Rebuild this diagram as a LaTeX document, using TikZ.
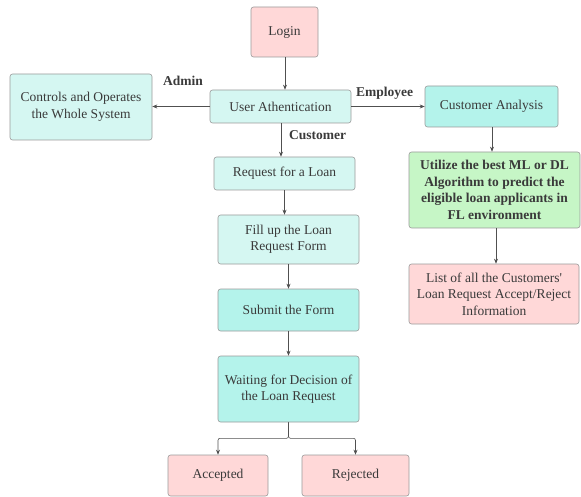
\documentclass[tikz,border=0pt]{standalone}
\usepackage{fontspec}
\setmainfont{Liberation Serif}
\usetikzlibrary{arrows.meta,calc}
\definecolor{pinkf}{HTML}{FFD8D8}
\definecolor{lcyan}{HTML}{D5F7F2}
\definecolor{dcyan}{HTML}{B4F3EB}
\definecolor{greenf}{HTML}{C6F6C6}
\definecolor{bordc}{HTML}{9A9A9A}
\definecolor{txtc}{HTML}{3A3A3A}
\definecolor{linec}{HTML}{505050}
\tikzset{
  box/.style={draw=bordc, line width=0.6pt, rounded corners=2.5pt, align=center, text=txtc,
    font=\fontsize{13.5}{16.5}\selectfont, inner sep=1pt},
  conn/.style={draw=linec, line width=0.6pt, -{Stealth[length=5pt,width=4pt]}},
  lbl/.style={text=txtc, font=\fontsize{13.5}{16.5}\selectfont\bfseries}
}
\newcommand{\bx}[7]{\node[box, fill=#2, minimum width=#5pt, minimum height=#6pt] (#1) at (#3pt,-#4pt) {#7};}
\begin{document}
\begin{tikzpicture}[x=1pt,y=1pt]
\useasboundingbox (0,0) rectangle (581,-497);
\bx{login}{pinkf}{284.5}{32}{67}{50}{Login}
\bx{ua}{lcyan}{280.5}{106.5}{141}{33}{User Athentication}
\bx{ctrl}{lcyan}{81}{107}{142}{66}{Controls and Operates\\the Whole System}
\bx{ca}{dcyan}{491.5}{106.5}{133}{41}{Customer Analysis}
\bx{req}{lcyan}{284.5}{173.5}{141}{33}{Request for a Loan}
\bx{ml}{greenf}{494.5}{190}{171}{76}{\bfseries Utilize the best ML or DL\\\bfseries Algorithm to predict the\\\bfseries eligible loan applicants in\\\bfseries FL environment}
\bx{list}{pinkf}{494}{294}{170}{60}{List of all the Customers\textquotesingle\\Loan Request Accept/Reject\\Information}
\bx{fill}{lcyan}{288.5}{239.5}{141}{49}{Fill up the Loan\\Request Form}
\bx{sub}{dcyan}{288.5}{310}{141}{42}{Submit the Form}
\bx{wait}{dcyan}{288.5}{389}{141}{66}{Waiting for Decision of\\the Loan Request}
\bx{acc}{pinkf}{218}{475.5}{100}{41}{Accepted}
\bx{rej}{pinkf}{355.5}{475.5}{107}{41}{Rejected}

\coordinate (lx) at (285,0);
\draw[conn] (lx |- login.south) -- (lx |- ua.north);
\draw[conn] (ua.west) -- (ctrl.east |- ua.west);
\draw[conn] (ua.east) -- (ca.west |- ua.east);
\coordinate (ux) at (281,0);
\draw[conn] (ux |- ua.south) -- (ux |- req.north);
\coordinate (rx) at (284.5,0);
\draw[conn] (rx |- req.south) -- (rx |- fill.north);
\draw[conn] (fill.south) -- (sub.north);
\draw[conn] (sub.south) -- (wait.north);
\coordinate (br) at ($(wait.south)+(0,-16)$);
\draw[conn, rounded corners=2pt] (wait.south) -- (br) -| (acc.north);
\draw[conn, rounded corners=2pt] (wait.south) -- (br) -| (rej.north);
\coordinate (cx) at (492,0);
\draw[conn] (cx |- ca.south) -- (cx |- ml.north);
\coordinate (mx) at (496,0);
\draw[conn] (mx |- ml.south) -- (mx |- list.north);

\node[lbl] (ladmin) at (183,-81) {Admin};
\node[lbl] (lemp) at (384.5,-93) {Employee};
\node[lbl] (lcust) at (317.5,-135) {Customer};
\end{tikzpicture}
\end{document}
